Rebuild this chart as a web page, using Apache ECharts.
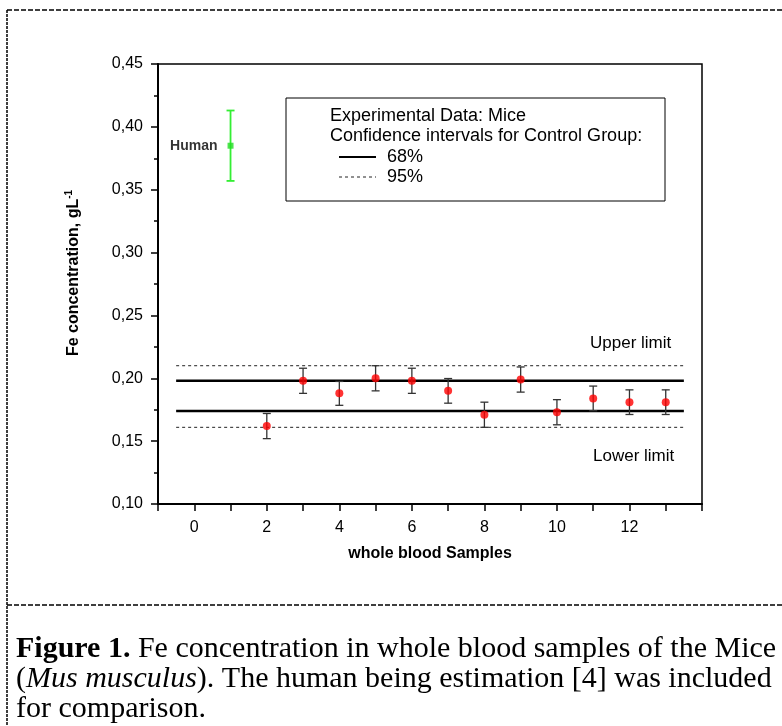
<!DOCTYPE html>
<html>
<head>
<meta charset="utf-8">
<script src="https://cdn.jsdelivr.net/npm/echarts@6/dist/echarts.min.js"></script>
<style>
  html, body { margin: 0; padding: 0; background: #fff; }
  #main { width: 782px; height: 726px; }
</style>
</head>
<body>
<div id="main"></div>
<script>
// mice samples: mean and half-width of error bar
const samples = [2, 3, 4, 5, 6, 7, 8, 9, 10, 11, 12, 13];
const means = [0.162, 0.198, 0.188, 0.200, 0.198, 0.190, 0.171, 0.199, 0.173, 0.184, 0.181, 0.181];
const errors = [0.010, 0.010, 0.0095, 0.010, 0.010, 0.0098, 0.010, 0.010, 0.010, 0.0098, 0.0098, 0.0098];

// human estimation
const humanX = [1];
const humanMean = [0.385];
const humanErr = [0.028];

// control group confidence limits
const limits68 = [0.174, 0.198];
const limits95 = [0.161, 0.210];
const lineSpan = [-0.5, 13.5];

const xTicks = [0, 2, 4, 6, 8, 10, 12];

const font = '"Liberation Sans", Arial, sans-serif';
const serif = '"Liberation Serif", "Times New Roman", serif';

const chart = echarts.init(document.getElementById('main'));

const hLine = (y, dashed) => ({
  type: 'line',
  data: lineSpan.map(x => [x, y]),
  symbol: 'none',
  silent: true,
  lineStyle: dashed
    ? {color: '#222', width: 1, type: [3, 3]}
    : {color: '#000', width: 2.5},
  z: 1
});

const errBars = (xs, ys, es, color, width, cap) => ({
  type: 'custom',
  data: xs.map((x, i) => [x, ys[i] - es[i], ys[i] + es[i]]),
  renderItem: (params, api) => {
    const lo = api.coord([api.value(0), api.value(1)]);
    const hi = api.coord([api.value(0), api.value(2)]);
    const style = {stroke: color, lineWidth: width};
    return {
      type: 'group',
      children: [
        {type: 'line', shape: {x1: lo[0], y1: lo[1], x2: hi[0], y2: hi[1]}, style},
        {type: 'line', shape: {x1: lo[0] - cap, y1: lo[1], x2: lo[0] + cap, y2: lo[1]}, style},
        {type: 'line', shape: {x1: hi[0] - cap, y1: hi[1], x2: hi[0] + cap, y2: hi[1]}, style}
      ]
    };
  },
  silent: true,
  z: 2
});

const txt = (s, left, top, size) => ({
  type: 'text', left, top, z: 11,
  style: {text: s, font: size + 'px ' + font, fill: '#000'}
});

const option = {
  backgroundColor: '#fff',
  animation: false,
  grid: {
    left: 158,
    top: 64,
    width: 544,
    height: 440,
    show: true,
    borderColor: '#000',
    borderWidth: 1.5,
    backgroundColor: 'transparent'
  },
  xAxis: {
    type: 'value',
    min: -1,
    max: 14,
    interval: 1,
    splitLine: {show: false},
    axisLine: {onZero: false, lineStyle: {color: '#000', width: 2}},
    axisTick: {length: 7, lineStyle: {color: '#000', width: 1.5}},
    axisLabel: {
      color: '#000',
      fontFamily: font,
      fontSize: 16,
      margin: 16,
      formatter: v => xTicks.includes(v) ? String(v) : ''
    },
    name: 'whole blood Samples',
    nameLocation: 'middle',
    nameGap: 42,
    nameMoveOverlap: false,
    nameTextStyle: {color: '#000', fontFamily: font, fontSize: 16, fontWeight: 'bold'}
  },
  yAxis: {
    type: 'value',
    min: 0.10,
    max: 0.45,
    interval: 0.05,
    splitLine: {show: false},
    axisLine: {onZero: false, lineStyle: {color: '#000', width: 2}},
    axisTick: {length: 7, lineStyle: {color: '#000', width: 1.5}},
    minorTick: {show: true, splitNumber: 2, length: 4, lineStyle: {color: '#000', width: 1.5}},
    minorSplitLine: {show: false},
    axisLabel: {
      color: '#000',
      fontFamily: font,
      fontSize: 16,
      margin: 15,
      formatter: v => v.toFixed(2).replace('.', ',')
    },
    name: '{a|Fe concentration, gL}{s|-1}',
    nameLocation: 'middle',
    nameGap: 74,
    nameMoveOverlap: false,
    nameTextStyle: {
      color: '#000',
      fontFamily: font,
      fontSize: 16,
      fontWeight: 'bold',
      padding: [0, 0, 0, 22],
      rich: {
        a: {color: '#000', fontFamily: font, fontSize: 16, fontWeight: 'bold'},
        s: {color: '#000', fontFamily: font, fontSize: 10, fontWeight: 'bold', padding: [0, 0, 10, 0]}
      }
    }
  },
  series: [
    hLine(limits95[1], true),
    hLine(limits95[0], true),
    hLine(limits68[1], false),
    hLine(limits68[0], false),
    errBars(samples, means, errors, '#333', 1.3, 4),
    {
      type: 'scatter',
      data: samples.map((x, i) => [x, means[i]]),
      symbol: 'circle',
      symbolSize: 8,
      itemStyle: {color: '#ff0000'},
      z: 3
    },
    errBars(humanX, humanMean, humanErr, '#33ee33', 1.8, 4),
    {
      type: 'scatter',
      data: humanX.map((x, i) => [x, humanMean[i]]),
      symbol: 'rect',
      symbolSize: 6,
      itemStyle: {color: '#22dd22'},
      label: {
        show: true,
        position: 'left',
        distance: 10,
        formatter: 'Human',
        color: '#000',
        fontFamily: font,
        fontSize: 14,
        fontWeight: 'bold'
      },
      z: 3
    }
  ],
  graphic: [
    // outer dashed frame
    {type: 'line', shape: {x1: 7, y1: 10, x2: 782, y2: 10}, style: {stroke: '#000', lineWidth: 1.5, lineDash: [5, 2]}},
    {type: 'line', shape: {x1: 7, y1: 10, x2: 7, y2: 726}, style: {stroke: '#000', lineWidth: 1.5, lineDash: [3, 1]}},
    {type: 'line', shape: {x1: 7, y1: 605, x2: 782, y2: 605}, style: {stroke: '#000', lineWidth: 1.5, lineDash: [5, 2]}},
    // legend box
    {type: 'rect', shape: {x: 286, y: 98, width: 379, height: 103}, style: {fill: '#fff', stroke: '#000', lineWidth: 1}, z: 10},
    txt('Experimental Data: Mice', 330, 107, 18),
    txt('Confidence intervals for Control Group:', 330, 127, 18),
    {type: 'line', shape: {x1: 339, y1: 157, x2: 376, y2: 157}, style: {stroke: '#000', lineWidth: 2}, z: 11},
    txt('68%', 387, 148, 18),
    {type: 'line', shape: {x1: 339, y1: 177, x2: 376, y2: 177}, style: {stroke: '#222', lineWidth: 1, lineDash: [3, 3]}, z: 11},
    txt('95%', 387, 168, 18),
    // limit annotations
    txt('Upper limit', 590, 335, 17),
    txt('Lower limit', 593, 448, 17),
    // caption
    {
      type: 'text', left: 16, top: 634, z: 11,
      style: {
        text: '{b|Figure 1.} Fe concentration in whole blood samples of the Mice\n({i|Mus musculus}). The human being estimation [4] was included\nfor comparison.',
        font: '30px ' + serif,
        fill: '#000',
        lineHeight: 30,
        rich: {
          b: {font: 'bold 30px ' + serif, fill: '#000', lineHeight: 30},
          i: {font: 'italic 30px ' + serif, fill: '#000', lineHeight: 30}
        }
      }
    }
  ]
};

chart.setOption(option);
</script>
</body>
</html>
